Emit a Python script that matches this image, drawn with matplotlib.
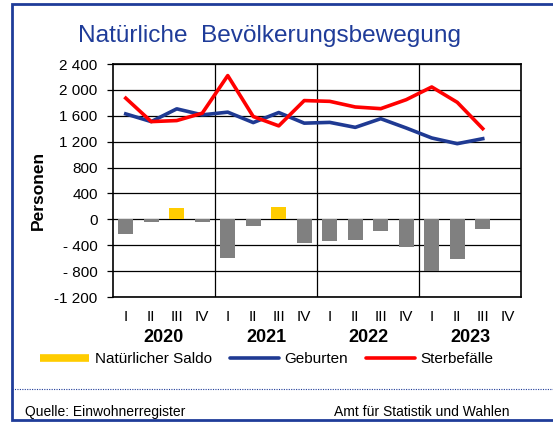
import matplotlib
matplotlib.use("Agg")
import matplotlib.pyplot as plt
from matplotlib.lines import Line2D
from matplotlib.transforms import blended_transform_factory

plt.rcParams['font.family'] = ['Liberation Sans', 'DejaVu Sans']

# ---- data ----
quarters = ["I", "II", "III", "IV"] * 4
years = ["2020", "2021", "2022", "2023"]
geburten = [1629, 1510, 1707, 1614, 1656, 1495, 1650, 1486,
            1498, 1421, 1555, 1411, 1257, 1169, 1246]
sterbefaelle = [1872, 1510, 1526, 1640, 2221, 1588, 1444, 1835,
                1823, 1736, 1710, 1849, 2045, 1808, 1401]
saldo = [-229, -34, 173, -34, -593, -99, 195, -371,
         -340, -313, -185, -432, -792, -607, -154]
ytick_values = [2400, 2000, 1600, 1200, 800, 400, 0, -400, -800, -1200]
ytick_labels = ["2 400", "2 000", "1 600", "1 200", "800", "400", "0",
                "- 400", "- 800", "-1 200"]

title = "Natürliche  Bevölkerungsbewegung"
ylabel = "Personen"
legend_labels = ["Natürlicher Saldo", "Geburten", "Sterbefälle"]
source = "Quelle: Einwohnerregister"
author = "Amt für Statistik und Wahlen"

# ---- colours ----
c_pos = "#FFCC00"
c_neg = "#808080"
c_blue = "#1F3A93"
c_red = "#FF0000"
c_frame = "#1F3C99"

W, H = 553, 423
fig = plt.figure(figsize=(W / 100, H / 100), dpi=100)

def fx(px):
    return px / W

def fy(py):
    return 1 - py / H

left, right, top, bottom = 113, 521, 64, 297
ax = fig.add_axes([fx(left), fy(bottom), fx(right - left), (bottom - top) / H])

n = len(quarters)
xs = list(range(n))
bar_colors = [c_pos if v >= 0 else c_neg for v in saldo]
ax.bar(xs[:len(saldo)], saldo, width=0.6, color=bar_colors, zorder=2)
ax.plot(xs[:len(geburten)], geburten, color=c_blue, lw=2.6, zorder=3,
        solid_joinstyle='round')
ax.plot(xs[:len(sterbefaelle)], sterbefaelle, color=c_red, lw=2.6, zorder=4,
        solid_joinstyle='round')

ax.set_xlim(-0.5, n - 0.5)
ax.set_ylim(-1200, 2400)
ax.set_yticks(ytick_values)
ax.set_yticklabels(ytick_labels, fontsize=11)
for v in ytick_values:
    ax.axhline(v, color="black", lw=0.9, zorder=1)
for b in [3.5, 7.5, 11.5]:
    ax.axvline(b, color="black", lw=0.9, zorder=1)
ax.tick_params(axis='y', length=4, width=0.9, pad=7, direction='out')
ax.set_xticks(xs)
ax.set_xticklabels(quarters, fontsize=11)
ax.tick_params(axis='x', length=0, pad=9)
for s in ax.spines.values():
    s.set_linewidth(1.2)
    s.set_color("black")

trans = blended_transform_factory(ax.transData, fig.transFigure)
for i, yr in enumerate(years):
    ax.text(i * 4 + 1.5, fy(337), yr, transform=trans, ha='center', va='center',
            fontsize=13, fontweight='bold')

fig.text(fx(38), fy(190), ylabel, rotation=90, ha='center', va='center',
         fontsize=12.5, fontweight='bold')
fig.text(fx(270), fy(36), title, ha='center', va='center', fontsize=17.6,
         color=c_frame)

handles = [Line2D([], [], color=c_pos, lw=5.5, solid_capstyle='butt'),
           Line2D([], [], color=c_blue, lw=2.6, solid_capstyle='round'),
           Line2D([], [], color=c_red, lw=2.6, solid_capstyle='round')]
fig.legend(handles, legend_labels, loc='center', bbox_to_anchor=(fx(267), fy(359)),
           ncol=3, frameon=False, fontsize=11, handlelength=3.2,
           handletextpad=0.35, columnspacing=1.2, borderaxespad=0, borderpad=0)

# dotted separator
fig.add_artist(Line2D([fx(12), 1.0], [fy(389), fy(389)], color=c_frame, lw=0.8,
                      ls=(0, (1, 1.2))))
fig.text(fx(25), fy(412), source, ha='left', va='center', fontsize=10)
fig.text(fx(509), fy(412), author, ha='right', va='center', fontsize=10)

# frame (left, top, bottom)
fig.add_artist(Line2D([1.0, fx(11.5), fx(11.5), 1.0],
                      [fy(4), fy(4), fy(420), fy(420)],
                      color=c_frame, lw=2.0, solid_joinstyle='miter'))

fig.savefig("out.png", dpi=100)
